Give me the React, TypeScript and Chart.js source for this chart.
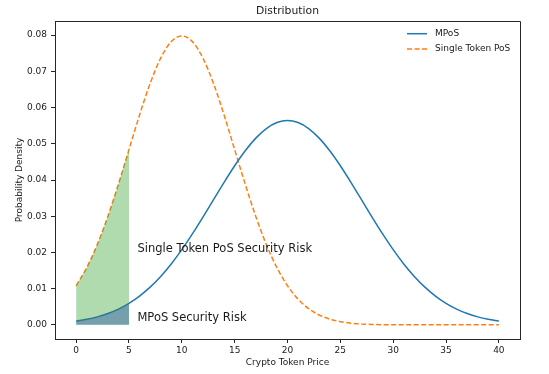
import React, { useEffect, useRef } from "react";
import { Chart, registerables } from "chart.js";

Chart.register(...registerables);

const X_VALUES = [0, 1, 2, 3, 4, 5, 6, 7, 8, 9, 10, 11, 12, 13, 14, 15, 16, 17, 18, 19, 20, 21, 22, 23, 24, 25, 26, 27, 28, 29, 30, 31, 32, 33, 34, 35, 36, 37, 38, 39, 40];
const MPOS = [0.00103, 0.00153, 0.00221, 0.00314, 0.00436, 0.00595, 0.00795, 0.01041, 0.01337, 0.01682, 0.02076, 0.0251, 0.02975, 0.03456, 0.03936, 0.04394, 0.04808, 0.05156, 0.05421, 0.05586, 0.05642, 0.05586, 0.05421, 0.05156, 0.04808, 0.04394, 0.03936, 0.03456, 0.02975, 0.0251, 0.02076, 0.01682, 0.01337, 0.01041, 0.00795, 0.00595, 0.00436, 0.00314, 0.00221, 0.00153, 0.00103];
const SINGLE = [0.0108, 0.01579, 0.02218, 0.02995, 0.03884, 0.04839, 0.05794, 0.06664, 0.07365, 0.07821, 0.07979, 0.07821, 0.07365, 0.06664, 0.05794, 0.04839, 0.03884, 0.02995, 0.02218, 0.01579, 0.0108, 0.00709, 0.00448, 0.00272, 0.00158, 0.00089, 0.00048, 0.00025, 0.00012, 0.00006, 0.00003, 0.00001, 0, 0, 0, 0, 0, 0, 0, 0, 0];
const RISK_END = 5;
const X_TICKS = [0, 5, 10, 15, 20, 25, 30, 35, 40];
const Y_TICKS = [0, 0.01, 0.02, 0.03, 0.04, 0.05, 0.06, 0.07, 0.08];
const SERIES_LABELS = ["MPoS", "Single Token PoS"];
const TITLE = "Distribution";
const X_TITLE = "Crypto Token Price";
const Y_TITLE = "Probability Density";
const ANNOTATIONS = [
  { text: "Single Token PoS Security Risk", x: 5.8, y: 0.02 },
  { text: "MPoS Security Risk", x: 5.8, y: 0.001 },
];

const FONT = "DejaVu Sans";
const BLUE = "#1f77b4";
const ORANGE = "#ff7f0e";

export default function App() {
  const ref = useRef<HTMLCanvasElement | null>(null);

  useEffect(() => {
    document.body.style.margin = "0";
    const canvas = ref.current;
    if (!canvas) return;

    const pts = (ys: number[]) => X_VALUES.map((x, i) => ({ x, y: ys[i] }));
    const riskPts = (ys: number[]) =>
      X_VALUES.map((x, i) => ({ x, y: ys[i] })).filter((p) => p.x <= RISK_END);

    const decor = {
      id: "decor",
      afterDraw(chart: any) {
        const { ctx, chartArea: a, scales } = chart;
        ctx.save();
        // spines top/right
        ctx.strokeStyle = "#262626";
        ctx.lineWidth = 1;
        ctx.beginPath();
        ctx.moveTo(a.left, a.top + 0.5);
        ctx.lineTo(a.right + 0.5, a.top + 0.5);
        ctx.lineTo(a.right + 0.5, a.bottom);
        ctx.stroke();

        ctx.fillStyle = "#1a1a1a";
        ctx.textAlign = "center";
        ctx.textBaseline = "middle";
        ctx.font = `10.8px "${FONT}"`;
        ctx.fillText(TITLE, (a.left + a.right) / 2, 11);
        ctx.font = `9px "${FONT}"`;
        ctx.fillText(X_TITLE, (a.left + a.right) / 2, 363);
        ctx.save();
        ctx.translate(20, (a.top + a.bottom) / 2);
        ctx.rotate(-Math.PI / 2);
        ctx.fillText(Y_TITLE, 0, 0);
        ctx.restore();

        // annotations
        ctx.textAlign = "left";
        ctx.textBaseline = "alphabetic";
        ctx.font = `11.5px "${FONT}"`;
        for (const an of ANNOTATIONS) {
          ctx.fillText(an.text, scales.x.getPixelForValue(an.x), scales.y.getPixelForValue(an.y));
        }

        // legend
        const rows = [
          { label: SERIES_LABELS[0], color: BLUE, dash: [] as number[] },
          { label: SERIES_LABELS[1], color: ORANGE, dash: [5, 2.5] },
        ];
        ctx.font = `9px "${FONT}"`;
        ctx.textBaseline = "middle";
        rows.forEach((r, i) => {
          const y = 33.7 + i * 15.3;
          ctx.strokeStyle = r.color;
          ctx.lineWidth = 1.5;
          ctx.setLineDash(r.dash);
          ctx.beginPath();
          ctx.moveTo(407, y);
          ctx.lineTo(427, y);
          ctx.stroke();
          ctx.setLineDash([]);
          ctx.fillStyle = "#1a1a1a";
          ctx.fillText(r.label, 435, y);
        });
        ctx.restore();
      },
    };

    const chart = new Chart(canvas, {
      type: "line",
      data: {
        datasets: [
          {
            label: "mpos-risk",
            data: riskPts(MPOS),
            fill: "origin",
            backgroundColor: "rgba(60,100,172,0.5)",
            borderWidth: 0,
            borderColor: "rgba(0,0,0,0)",
            pointRadius: 0,
            cubicInterpolationMode: "monotone",
          },
          {
            label: "single-risk",
            data: riskPts(SINGLE),
            fill: "origin",
            backgroundColor: "rgba(44,160,44,0.38)",
            borderWidth: 0,
            borderColor: "rgba(0,0,0,0)",
            pointRadius: 0,
            cubicInterpolationMode: "monotone",
          },
          {
            label: SERIES_LABELS[0],
            data: pts(MPOS),
            borderColor: BLUE,
            borderWidth: 1.5,
            pointRadius: 0,
            fill: false,
            cubicInterpolationMode: "monotone",
          },
          {
            label: SERIES_LABELS[1],
            data: pts(SINGLE),
            borderColor: ORANGE,
            borderWidth: 1.5,
            borderDash: [5, 2.5],
            pointRadius: 0,
            fill: false,
            cubicInterpolationMode: "monotone",
          },
        ],
      },
      options: {
        responsive: false,
        animation: false,
        events: [],
        layout: { padding: { left: 0, right: 29, top: 21, bottom: 0 } },
        plugins: {
          legend: { display: false },
          title: { display: false },
          tooltip: { enabled: false },
        },
        scales: {
          x: {
            type: "linear",
            min: -2,
            max: 42,
            afterBuildTicks: (s: any) => {
              s.ticks = X_TICKS.map((v) => ({ value: v }));
            },
            afterFit: (s: any) => {
              s.height = 35;
            },
            ticks: {
              font: { family: FONT, size: 9 },
              color: "#1a1a1a",
              padding: 2,
              maxRotation: 0,
              callback: (v: any) => String(v),
            },
            grid: { drawOnChartArea: false, drawTicks: true, tickLength: 4, color: "#262626" },
            border: { display: true, color: "#262626", width: 1 },
          },
          y: {
            type: "linear",
            min: -0.0039,
            max: 0.0839,
            afterBuildTicks: (s: any) => {
              s.ticks = Y_TICKS.map((v) => ({ value: v }));
            },
            afterFit: (s: any) => {
              s.width = 55;
            },
            ticks: {
              font: { family: FONT, size: 9 },
              color: "#1a1a1a",
              padding: 4,
              callback: (v: any) => Number(v).toFixed(2),
            },
            grid: { drawOnChartArea: false, drawTicks: true, tickLength: 4, color: "#262626" },
            border: { display: true, color: "#262626", width: 1 },
          },
        },
      },
      plugins: [decor],
    } as any);

    return () => chart.destroy();
  }, []);

  return <canvas ref={ref} width={549} height={374} style={{ display: "block" }} />;
}
